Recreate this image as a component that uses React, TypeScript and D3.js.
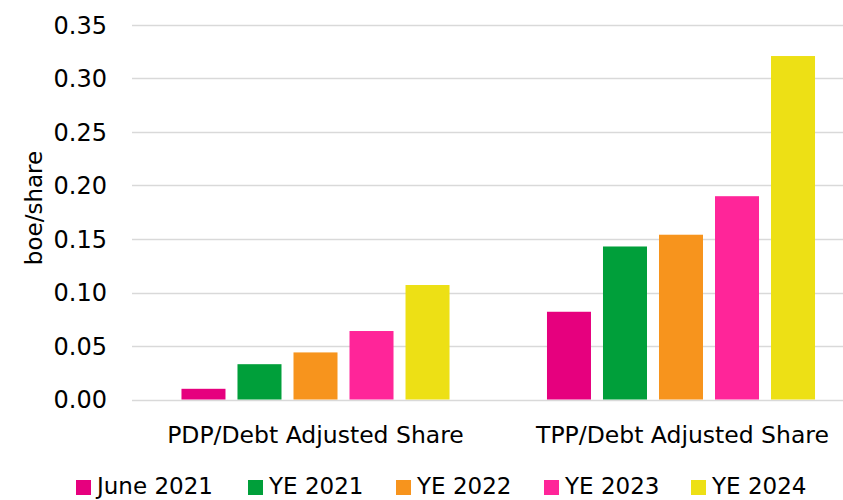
import React from "react";
import * as d3 from "d3";

const categories = ["PDP/Debt Adjusted Share", "TPP/Debt Adjusted Share"];
const seriesNames = ["June 2021", "YE 2021", "YE 2022", "YE 2023", "YE 2024"];
const seriesColors = ["#e6007e", "#009f3a", "#f7941d", "#ff2599", "#ede015"];
const pdpValues = [0.01, 0.033, 0.044, 0.064, 0.107];
const tppValues = [0.082, 0.143, 0.154, 0.19, 0.321];
const valuesByCategory = [pdpValues, tppValues];
const yTicks = [0, 0.05, 0.1, 0.15, 0.2, 0.25, 0.3, 0.35];
const yTitle = "boe/share";

const W = 843;
const H = 500;
const FONT = "'DejaVu Sans', Verdana, sans-serif";

export default function App() {
  const x0 = d3.scaleBand<string>().domain(categories).range([132.75, 863.75]).padding(0);
  const x1 = d3
    .scaleBand<string>()
    .domain(seriesNames)
    .range([0, x0.bandwidth()])
    .paddingInner(12 / 56)
    .paddingOuter(0.87);
  const y = d3.scaleLinear().domain([0, 0.35]).range([399.5, 25]);
  const fmt = d3.format(".2f");

  const legendX = [76, 248, 396, 544, 691];

  return (
    <svg
      width={W}
      height={H}
      style={{ position: "absolute", left: 0, top: 0, background: "#fff" }}
      fontFamily={FONT}
    >
      <rect x={0} y={0} width={W} height={H} fill="#fff" />
      {yTicks.map((t) => (
        <g key={t}>
          <line x1={132} x2={W} y1={Math.round(y(t)) + 0.5} y2={Math.round(y(t)) + 0.5} stroke="#d9d9d9" strokeWidth={1.5} />
          <text x={107} y={y(t) + 8.5} textAnchor="end" fontSize={24} fill="#000">
            {fmt(t)}
          </text>
        </g>
      ))}
      <text
        transform={`translate(42, 208) rotate(-90)`}
        textAnchor="middle"
        fontSize={23}
        fill="#000"
      >
        {yTitle}
      </text>
      {categories.map((c, ci) => (
        <g key={c} transform={`translate(${x0(c)},0)`}>
          {seriesNames.map((s, si) => {
            const v = valuesByCategory[ci][si];
            return (
              <rect
                key={s}
                x={x1(s)}
                y={y(v)}
                width={x1.bandwidth()}
                height={y(0) - y(v)}
                fill={seriesColors[si]}
              />
            );
          })}
          <text
            x={x0.bandwidth() / 2 + (ci === 1 ? 1.5 : 0)}
            y={443}
            textAnchor="middle"
            fontSize={23.5}
            fill="#000"
          >
            {c}
          </text>
        </g>
      ))}
      {seriesNames.map((s, si) => (
        <g key={s}>
          <rect x={legendX[si]} y={480} width={15} height={15} fill={seriesColors[si]} />
          <text x={legendX[si] + 21} y={494} fontSize={23} fill="#000">
            {s}
          </text>
        </g>
      ))}
    </svg>
  );
}
